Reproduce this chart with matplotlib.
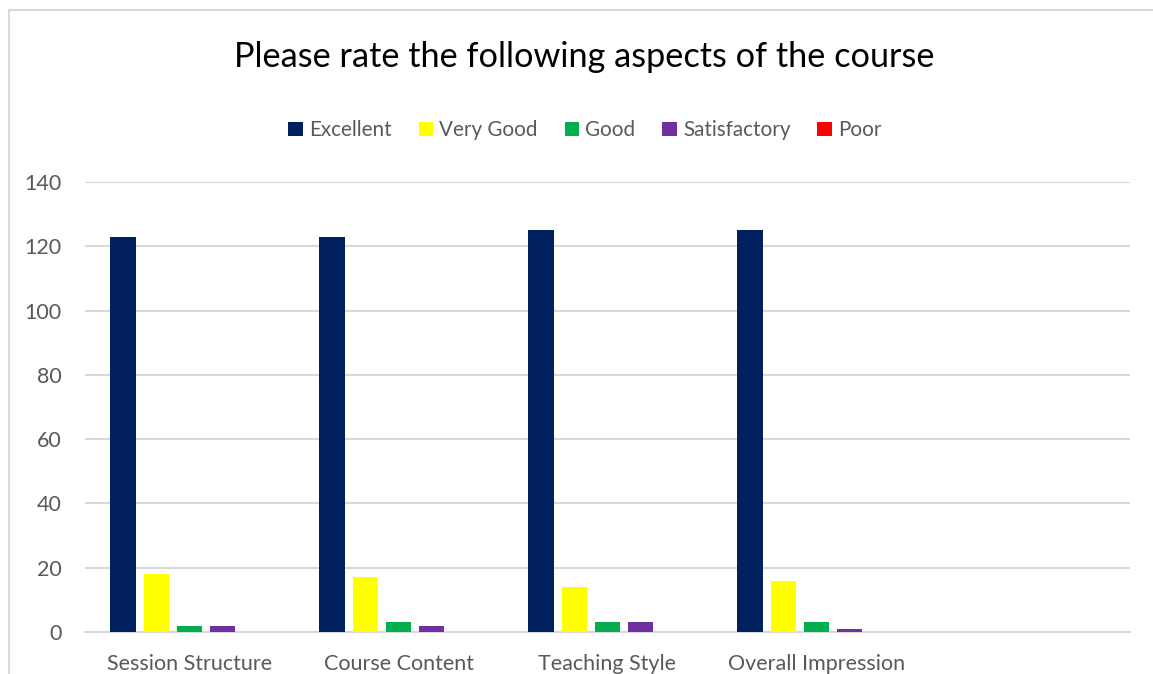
import numpy as np
import matplotlib.pyplot as plt
from matplotlib.lines import Line2D

plt.rcParams['font.family'] = ['Lato', 'DejaVu Sans']

# daten
categories = ['Session Structure', 'Course Content', 'Teaching Style', 'Overall Impression', '']
series_names = ['Excellent', 'Very Good', 'Good', 'Satisfactory', 'Poor']
excellent = [123, 123, 125, 125, 0]
very_good = [18, 17, 14, 16, 0]
good = [2, 3, 3, 3, 0]
satisfactory = [2, 2, 3, 1, 0]
poor = [0, 0, 0, 0, 0]
colors = ['#002060', '#FFFF00', '#00B050', '#7030A0', '#FF0000']

W, H = 1153, 674
fig = plt.figure(figsize=(W / 100, H / 100), dpi=100)
ax = fig.add_axes([85 / W, 42 / H, (1130 - 85) / W, (632 - 182) / H])

x = np.arange(len(categories))
step = 0.158
bw = 0.124
for i, (name, vals) in enumerate(zip(series_names, [excellent, very_good, good, satisfactory, poor])):
    ax.bar(x + (i - 2) * step, vals, bw, color=colors[i], label=name, zorder=3)

ax.set_xlim(-0.5, len(categories) - 0.5)
ax.set_ylim(0, 140)
ax.set_yticks(range(0, 141, 20))
ax.yaxis.grid(True, color='#D9D9D9', linewidth=1.5, zorder=0)
ax.set_xticks(x)
ax.set_xticklabels(categories)
ax.tick_params(axis='both', length=0, labelsize=15.5, labelcolor='#595959')
ax.tick_params(axis='y', pad=17)
ax.tick_params(axis='x', pad=16)
for s in ['top', 'right', 'left']:
    ax.spines[s].set_visible(False)
ax.spines['bottom'].set_color('#D9D9D9')
ax.spines['bottom'].set_linewidth(1.5)

fig.text(584 / W, 1 - 57 / H, 'Please rate the following aspects of the course',
         ha='center', va='center', fontsize=24.7, color='black')

leg = fig.legend(loc='center', bbox_to_anchor=(585 / W, 1 - 130 / H), ncol=5, frameon=False,
                 fontsize=14.9, handlelength=0.7, handleheight=0.7, handletextpad=0.3,
                 columnspacing=1.3)
for t in leg.get_texts():
    t.set_color('#595959')

# rahmen (abgeschnitten rechts und unten)
fig.add_artist(Line2D([8.5 / W, 8.5 / W], [0, 1 - 10 / H], transform=fig.transFigure,
                      color='#D9D9D9', linewidth=1.5))
fig.add_artist(Line2D([8.5 / W, 1], [1 - 10 / H, 1 - 10 / H], transform=fig.transFigure,
                      color='#D9D9D9', linewidth=1.5))

fig.savefig('out.png', dpi=100)
